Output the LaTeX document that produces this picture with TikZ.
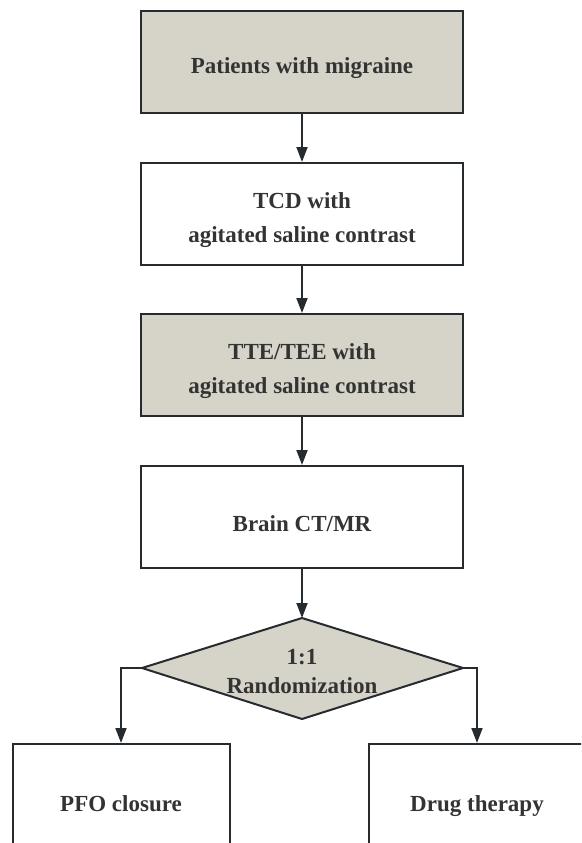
\documentclass[tikz,border=0pt]{standalone}
\usepackage{fontspec}
\setmainfont{Liberation Serif}
\usetikzlibrary{arrows.meta}
\definecolor{boxfill}{RGB}{214,212,200}
\definecolor{edge}{RGB}{38,43,48}
\definecolor{txt}{RGB}{51,51,51}
\newcommand{\lowerstrut}{\rule{0pt}{29pt}}
\begin{document}
\begin{tikzpicture}[x=1pt,y=-1pt,
  stepbox/.style={draw=edge,line width=2pt,minimum width=322pt,minimum height=102pt,
    align=center,font=\fontsize{23}{34}\selectfont\bfseries,text=txt,inner sep=0pt},
  smallbox/.style={draw=edge,line width=2pt,minimum width=217pt,minimum height=102pt,
    font=\fontsize{23}{34}\selectfont\bfseries,text=txt,inner sep=0pt,text height=38pt,text depth=5pt},
  greyfill/.style={fill=boxfill},
  lbl/.style={align=center,font=\fontsize{23}{29}\selectfont\bfseries,text=txt,inner sep=0pt},
  arr/.style={draw=edge,line width=1.8pt,-{Triangle[length=15pt,width=11pt]}}]
\useasboundingbox (0,0) rectangle (581,843);
\clip (0,0) rectangle (581,843);
\node[stepbox,greyfill] (a) at (302,62) {\lowerstrut Patients with migraine};
\node[stepbox] (b) at (302,214) {\lowerstrut TCD with\\agitated saline contrast};
\node[stepbox,greyfill] (c) at (302,365) {\lowerstrut TTE/TEE with\\agitated saline contrast};
\node[stepbox] (d) at (302,517) {\lowerstrut Brain CT/MR};
\coordinate (rt) at (302,618);
\coordinate (rl) at (142,668);
\coordinate (rr) at (463,668);
\coordinate (rb) at (302,719);
\draw[draw=edge,fill=boxfill,line width=2pt,line join=miter] (rt) -- (rr) -- (rb) -- (rl) -- cycle;
\node[lbl] (r) at (302,672) {1:1\\Randomization};
\node[smallbox] (e) at (121,795) {PFO closure};
\node[smallbox] (f) at (477,795) {Drug therapy};
\draw[arr] (a) -- (b);
\draw[arr] (b) -- (c);
\draw[arr] (c) -- (d);
\draw[arr] (d) -- (rt);
\draw[arr] (rl) -| (e.north);
\draw[arr] (rr) -| (f.north);
\end{tikzpicture}
\end{document}
